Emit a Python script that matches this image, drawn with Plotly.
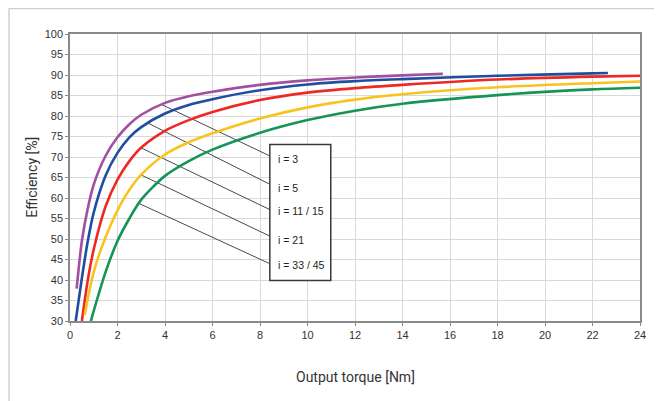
import numpy as np
import plotly.graph_objects as go

# Output torque [Nm] / efficiency [%]
labels = ["i = 3", "i = 5", "i = 11 / 15", "i = 21", "i = 33 / 45"]
colors = ["#A24FA0", "#1F4E9E", "#EC2924", "#F7C41F", "#169457"]

x_i3 = [0.28, 0.5, 0.75, 1.0, 1.5, 2.0, 2.5, 3.0, 4.0, 5.0, 6.0, 8.0, 10.0, 12.0, 14.0, 15.7]
y_i3 = [37.9, 49.5, 57.5, 63.3, 70.3, 74.8, 78.0, 80.3, 83.2, 84.8, 85.9, 87.6, 88.7, 89.4, 89.9, 90.3]

x_i5 = [0.24, 0.5, 0.75, 1.0, 1.5, 2.0, 2.5, 3.0, 4.0, 5.0, 6.0, 8.0, 10.0, 12.0, 14.0, 18.0, 22.0, 22.65]
y_i5 = [30.0, 40.5, 49.5, 56.5, 65.5, 71.0, 74.8, 77.3, 80.6, 82.7, 84.1, 86.3, 87.7, 88.5, 89.0, 89.8, 90.4, 90.5]

x_i11 = [0.5, 0.75, 1.0, 1.5, 2.0, 2.5, 3.0, 4.0, 5.0, 6.0, 8.0, 10.0, 12.0, 14.0, 18.0, 22.0, 24.0]
y_i11 = [30.0, 40.0, 47.5, 58.0, 64.5, 69.0, 72.3, 76.4, 79.0, 81.0, 83.9, 85.7, 86.8, 87.6, 88.9, 89.6, 89.8]

x_i21 = [0.62, 1.0, 1.5, 2.0, 2.5, 3.0, 4.0, 5.0, 6.0, 8.0, 10.0, 12.0, 14.0, 18.0, 22.0, 24.0]
y_i21 = [31.5, 42.0, 50.5, 57.0, 62.0, 65.7, 70.6, 73.6, 75.8, 79.4, 82.1, 84.0, 85.3, 87.0, 88.0, 88.4]

x_i33 = [0.88, 1.0, 1.5, 2.0, 2.5, 3.0, 4.0, 5.0, 6.0, 8.0, 10.0, 12.0, 14.0, 18.0, 22.0, 24.0]
y_i33 = [30.0, 32.5, 42.0, 49.5, 55.0, 59.6, 65.4, 69.0, 71.8, 75.9, 79.0, 81.3, 83.0, 85.1, 86.5, 86.9]

series_x = [x_i3, x_i5, x_i11, x_i21, x_i33]
series_y = [y_i3, y_i5, y_i11, y_i21, y_i33]

# where each leader line touches its curve (torque) and label box rows (efficiency)
leader_x = [3.86, 3.29, 2.99, 2.99, 2.90]
leader_end_y = [70.26, 63.35, 57.17, 50.72, 43.98]
label_y = [69.4, 62.45, 56.8, 49.7, 43.6]

x_ticks = list(range(0, 25, 2))
y_ticks = list(range(30, 101, 5))

x_title = "Output torque [Nm]"
y_title = "Efficiency [%]"

box_x0, box_x1, box_y0, box_y1 = 8.414, 10.98, 39.9, 73.05

fig = go.Figure()

# leader lines (under the curves)
for lx, ey, xs, ys in zip(leader_x, leader_end_y, series_x, series_y):
    sy = float(np.interp(lx, xs, ys))
    fig.add_trace(go.Scatter(x=[lx, box_x0], y=[sy, ey], mode="lines",
                             line=dict(color="#4a4a4a", width=1),
                             hoverinfo="skip", showlegend=False))

for xs, ys, c, name in zip(series_x, series_y, colors, labels):
    fig.add_trace(go.Scatter(x=xs, y=ys, mode="lines", name=name,
                             line=dict(color=c, width=2.6, shape="spline", smoothing=0.8),
                             showlegend=False))

tick_font = dict(family="Liberation Sans Narrow, Arial Narrow, Liberation Sans, sans-serif",
                 size=11, color="#333333")
title_font = dict(family="Roboto, sans-serif", size=14, color="#333333")

fig.update_xaxes(range=[0, 24], tickvals=x_ticks, ticktext=[str(v) for v in x_ticks],
                 showgrid=True, gridcolor="#d9d9d9", gridwidth=1,
                 showline=True, linecolor="#8a8a8a", linewidth=1.5, mirror=True,
                 ticks="outside", ticklen=3, tickcolor="#8a8a8a",
                 tickfont=tick_font, zeroline=False, automargin=False)
fig.update_yaxes(range=[30, 100], tickvals=y_ticks, ticktext=[str(v) for v in y_ticks],
                 showgrid=True, gridcolor="#d9d9d9", gridwidth=1,
                 showline=True, linecolor="#8a8a8a", linewidth=1.5, mirror=True,
                 ticks="outside", ticklen=3, tickcolor="#8a8a8a",
                 tickfont=tick_font, zeroline=False, automargin=False)

# axis titles
fig.add_annotation(x=0.5, y=-0.195, xref="paper", yref="paper", text=x_title, showarrow=False,
                   xanchor="center", yanchor="middle", font=title_font)
fig.add_annotation(x=-0.068, y=0.5, xref="paper", yref="paper", text=y_title, showarrow=False,
                   xanchor="center", yanchor="middle", textangle=-90, font=title_font)

# label box
fig.add_shape(type="rect", xref="x", yref="y", x0=box_x0, x1=box_x1, y0=box_y0, y1=box_y1,
              line=dict(color="#3a3a3a", width=1.5), fillcolor="white", layer="above")
for t, ly in zip(labels, label_y):
    fig.add_annotation(x=box_x0 + 0.28, y=ly, xref="x", yref="y", text=t, showarrow=False,
                       xanchor="left", yanchor="middle",
                       font=dict(family="Liberation Sans Narrow, Arial Narrow, Liberation Sans, sans-serif",
                                 size=10.5, color="#222222"))

# outer frame (top and left light gray lines at the page edge)
fig.add_shape(type="line", xref="paper", yref="paper", x0=-0.107, x1=1.05, y0=1.0889, y1=1.0889,
              line=dict(color="#cfcfcf", width=1.5))
fig.add_shape(type="line", xref="paper", yref="paper", x0=-0.107, x1=-0.107, y0=1.0889, y1=-0.3,
              line=dict(color="#cfcfcf", width=1.5))

# the page body adds an 8px offset, so the figure is sized to fit the remaining window
fig.update_layout(width=654, height=393, margin=dict(l=62, r=22, t=26, b=80),
                  plot_bgcolor="white", paper_bgcolor="white", showlegend=False)

fig.write_html("out.html")
